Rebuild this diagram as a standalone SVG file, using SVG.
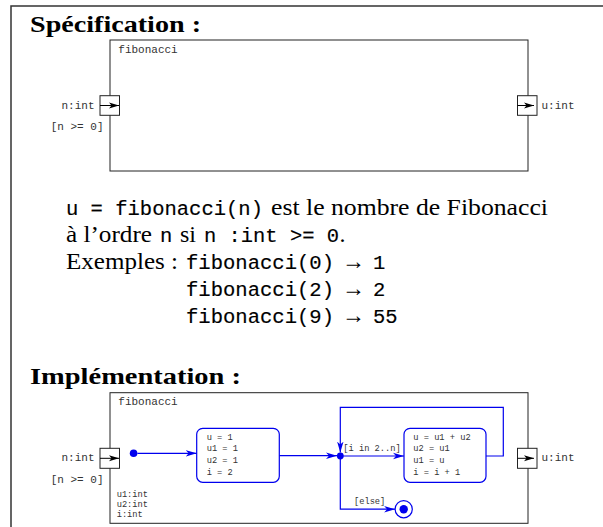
<svg xmlns="http://www.w3.org/2000/svg" width="603" height="527" viewBox="0 0 603 527">
<style>
.frame{fill:none;stroke:#333;stroke-width:1.5}
.box{fill:none;stroke:#222;stroke-width:1}
.port{fill:#fff;stroke:#222;stroke-width:1}
.pline{fill:none;stroke:#000;stroke-width:1}
.bl{fill:none;stroke:#0000ee;stroke-width:1.2}
.blbox{fill:#fff;stroke:#0000ee;stroke-width:1.2}
.bldot{fill:#0000ee}
.title{font-family:"Liberation Serif",serif;font-weight:bold;font-size:23px;fill:#000}
.rm{font-family:"Liberation Serif",serif;font-size:24px;fill:#000}
.tt{font-family:"Liberation Mono",monospace;font-size:20.5px;fill:#000;stroke:#000;stroke-width:0.15}
.lab{font-family:"Liberation Mono",monospace;font-size:11px;fill:#333}
.sm{font-family:"Liberation Mono",monospace;font-size:8.7px;fill:#333}
</style>
<defs>
<marker id="ah" markerWidth="10" markerHeight="8" refX="10" refY="4" orient="auto" markerUnits="userSpaceOnUse">
<path d="M0,1 L10,4 L0,7 L2.5,4 Z" fill="#000"/>
</marker>
<marker id="bh" markerWidth="11" markerHeight="8" refX="11" refY="4" orient="auto" markerUnits="userSpaceOnUse">
<path d="M0,0.8 L11,4 L0,7.2 L3,4 Z" fill="#0000ee"/>
</marker>
</defs>

<g id="frame">
<path class="frame" d="M11,527 V6 H603"/>
</g>

<text class="title" x="30" y="31.7" textLength="171" lengthAdjust="spacingAndGlyphs">Spécification :</text>

<g id="spec-fibonacci">
<rect class="box" x="110" y="40" width="418" height="131"/>
<text class="lab" x="118.3" y="52.5">fibonacci</text>
</g>
<g id="spec-in-port">
<rect class="port" x="100" y="95.7" width="19.5" height="19.6"/>
<path class="pline" d="M100,105.5 H119" marker-end="url(#ah)"/>
<text class="lab" x="94.5" y="108.5" text-anchor="end">n:int</text>
<text class="lab" x="103.5" y="130" text-anchor="end">[n &gt;= 0]</text>
</g>
<g id="spec-out-port">
<rect class="port" x="517.5" y="95.7" width="19.5" height="19.6"/>
<path class="pline" d="M517.5,105.5 H534" marker-end="url(#ah)"/>
<text class="lab" x="541.5" y="108.5">u:int</text>
</g>

<g id="description">
<text class="tt" x="66" y="215" textLength="197" lengthAdjust="spacingAndGlyphs" xml:space="preserve">u = fibonacci(n)</text>
<text class="rm" x="271" y="215" textLength="277" lengthAdjust="spacingAndGlyphs">est le nombre de Fibonacci</text>
<text class="rm" x="66" y="242" textLength="86" lengthAdjust="spacingAndGlyphs">à l’ordre</text>
<text class="tt" x="160" y="242">n</text>
<text class="rm" x="180" y="242" textLength="16" lengthAdjust="spacingAndGlyphs">si</text>
<text class="tt" x="204" y="242" textLength="135" lengthAdjust="spacingAndGlyphs" xml:space="preserve">n :int &gt;= 0</text>
<text class="rm" x="339.5" y="242">.</text>
<text class="rm" x="66" y="269" textLength="112" lengthAdjust="spacingAndGlyphs">Exemples :</text>
<text class="tt" x="186" y="269" textLength="148" lengthAdjust="spacingAndGlyphs">fibonacci(0)</text>
<text class="rm" x="342" y="269" textLength="23" lengthAdjust="spacingAndGlyphs">→</text>
<text class="tt" x="373" y="269">1</text>
<text class="tt" x="186" y="296" textLength="148" lengthAdjust="spacingAndGlyphs">fibonacci(2)</text>
<text class="rm" x="342" y="296" textLength="23" lengthAdjust="spacingAndGlyphs">→</text>
<text class="tt" x="373" y="296">2</text>
<text class="tt" x="186" y="323" textLength="148" lengthAdjust="spacingAndGlyphs">fibonacci(9)</text>
<text class="rm" x="342" y="323" textLength="23" lengthAdjust="spacingAndGlyphs">→</text>
<text class="tt" x="373" y="323">55</text>
</g>

<text class="title" x="30" y="384" textLength="211" lengthAdjust="spacingAndGlyphs">Implémentation :</text>

<g id="impl-fibonacci">
<rect class="box" x="110" y="392.7" width="418" height="130.6"/>
<text class="lab" x="118.3" y="405">fibonacci</text>
<text class="sm" x="116.7" y="496.7">u1:int</text>
<text class="sm" x="116.7" y="506.7">u2:int</text>
<text class="sm" x="116.7" y="516.7">i:int</text>
</g>
<g id="impl-in-port">
<rect class="port" x="100" y="448.3" width="19.5" height="20"/>
<path class="pline" d="M100,458.3 H119" marker-end="url(#ah)"/>
<text class="lab" x="94.5" y="461.3" text-anchor="end">n:int</text>
<text class="lab" x="103.5" y="483" text-anchor="end">[n &gt;= 0]</text>
</g>
<g id="impl-out-port">
<rect class="port" x="517.5" y="448.3" width="19.5" height="20"/>
<path class="pline" d="M517.5,458.3 H534" marker-end="url(#ah)"/>
<text class="lab" x="541.5" y="461.3">u:int</text>
</g>

<g id="initial">
<circle class="bldot" cx="133.6" cy="453.3" r="3.8"/>
</g>
<g id="init-block">
<rect class="blbox" x="196.7" y="428.3" width="82.6" height="54" rx="6"/>
<text class="sm" x="206.7" y="439.5">u = 1</text>
<text class="sm" x="206.7" y="451.2">u1 = 1</text>
<text class="sm" x="206.7" y="462.8">u2 = 1</text>
<text class="sm" x="206.7" y="474.5">i = 2</text>
</g>
<g id="junction">
<circle class="bldot" cx="340.3" cy="456" r="3.4"/>
</g>
<g id="loop-block">
<rect class="blbox" x="404" y="428.3" width="82" height="54" rx="6"/>
<text class="sm" x="413.3" y="439.5">u = u1 + u2</text>
<text class="sm" x="413.3" y="451.2">u2 = u1</text>
<text class="sm" x="413.3" y="462.8">u1 = u</text>
<text class="sm" x="413.3" y="474.5">i = i + 1</text>
</g>
<g id="final">
<circle fill="#fff" stroke="#0000ee" stroke-width="1.2" cx="403.7" cy="509.2" r="8.6"/>
<circle class="bldot" cx="403.7" cy="509.2" r="4.2"/>
</g>

<g id="connectors">
<path class="bl" d="M137.4,453.3 H196.7" marker-end="url(#bh)"/>
<path class="bl" d="M279.3,455.7 H337" marker-end="url(#bh)"/>
<path class="bl" d="M340.3,456 H404" marker-end="url(#bh)"/>
<path class="bl" d="M486,456 H503.3 V407.3 H340.3 V452.6" marker-end="url(#bh)"/>
<path class="bl" d="M340.3,456 V509.2 H395.1" marker-end="url(#bh)"/>
<text class="sm" x="343.3" y="450.7">[i in 2..n]</text>
<text class="sm" x="354" y="504">[else]</text>
</g>
</svg>
